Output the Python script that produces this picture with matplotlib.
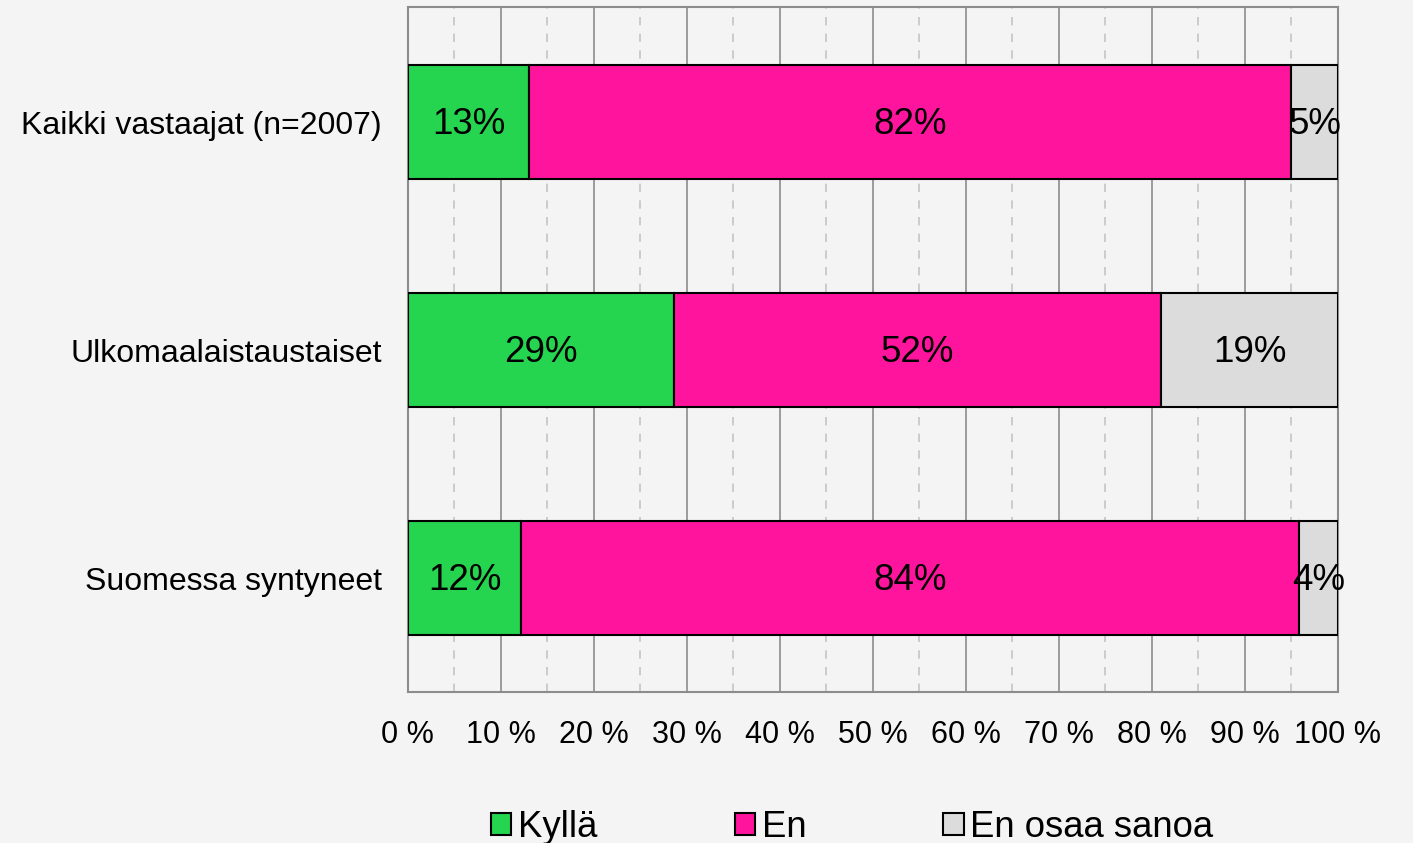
import matplotlib.pyplot as plt
import numpy as np
from matplotlib.ticker import MultipleLocator

plt.rcParams['font.family'] = ['Liberation Sans', 'DejaVu Sans']

# Data (share of respondents, %)
groups = ['Kaikki vastaajat (n=2007)', 'Ulkomaalaistaustaiset', 'Suomessa syntyneet']
kylla = [13.0, 28.6, 12.2]
en = [82.0, 52.4, 83.6]
eos = [5.0, 19.0, 4.2]
series_names = ['Kyllä', 'En', 'En osaa sanoa']
colors = ['#25D44F', '#FF149E', '#DCDCDC']
x_ticks = np.arange(0, 101, 10)

bg = '#F4F4F4'
fig = plt.figure(figsize=(14.13, 8.43), dpi=100, facecolor=bg)
ax = fig.add_axes([0.2887, 0.1791, 0.6582, 0.8126], facecolor=bg)

y = np.arange(len(groups))
left = np.zeros(len(groups))
for vals, name, c in zip([kylla, en, eos], series_names, colors):
    vals = np.array(vals)
    ax.barh(y, vals, left=left, height=0.5, color=c, edgecolor='black',
            linewidth=1.5, label=name, zorder=3)
    for yi, l, v in zip(y, left, vals):
        ax.text(l + v / 2, yi + 0.01, f'{round(v):.0f}%', ha='center', va='center',
                fontsize=26.5, color='black', zorder=4)
    left += vals

ax.set_xlim(0, 100)
ax.set_ylim(2.5, -0.505)
ax.set_yticks(y)
ax.set_yticklabels(groups, fontsize=23)
ax.set_xticks(x_ticks)
ax.set_xticklabels([f'{t} %' for t in x_ticks], fontsize=22)
ax.xaxis.set_minor_locator(MultipleLocator(5))
ax.tick_params(axis='both', which='both', length=0)
ax.tick_params(axis='x', pad=20)
ax.tick_params(axis='y', pad=19)

ax.grid(axis='x', which='major', color='#8c8c8c', linewidth=1.2, zorder=0)
ax.grid(axis='x', which='minor', color='#c4c4c4', linewidth=1.2,
        linestyle=(0, (5, 5)), zorder=0)
for s in ax.spines.values():
    s.set_color('#8c8c8c')
    s.set_linewidth(1.5)

ax.legend(loc='center', bbox_to_anchor=(0.478, -0.198), ncol=3,
          frameon=False, fontsize=26.3, handlelength=0.55, handleheight=0.55,
          handletextpad=0.19, columnspacing=3.75, borderpad=0)

plt.savefig('out.png', dpi=100, facecolor=bg)
